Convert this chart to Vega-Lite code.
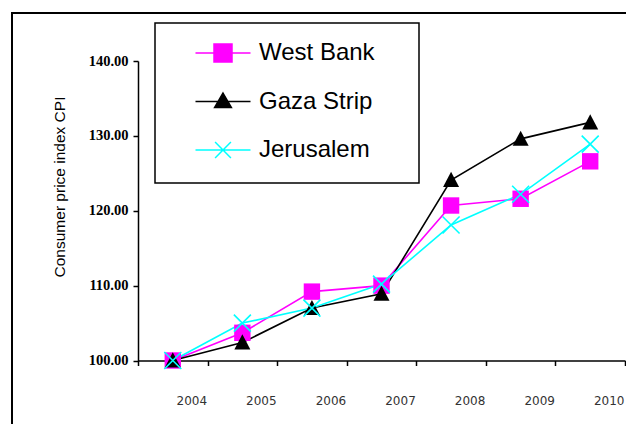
{
  "$schema": "https://vega.github.io/schema/vega-lite/v6.json",
  "width": 620,
  "height": 420,
  "autosize": {"type": "none"},
  "padding": {"left": 12, "top": 13, "right": 0, "bottom": 0},
  "background": "white",
  "config": {
    "view": {"stroke": "black", "strokeWidth": 2},
    "axis": {"grid": false, "domainColor": "black", "domainWidth": 1.5, "tickColor": "black", "tickWidth": 1.5, "tickSize": 5},
    "legend": {"strokeWidth": 1.5}
  },
  "data": {
    "values": [
      {"year": "2004", "series": "West Bank", "value": 100},
      {"year": "2005", "series": "West Bank", "value": 103.7},
      {"year": "2006", "series": "West Bank", "value": 109.2},
      {"year": "2007", "series": "West Bank", "value": 110.0},
      {"year": "2008", "series": "West Bank", "value": 120.7},
      {"year": "2009", "series": "West Bank", "value": 121.6},
      {"year": "2010", "series": "West Bank", "value": 126.6},
      {"year": "2004", "series": "Gaza Strip", "value": 100},
      {"year": "2005", "series": "Gaza Strip", "value": 102.4},
      {"year": "2006", "series": "Gaza Strip", "value": 107.0},
      {"year": "2007", "series": "Gaza Strip", "value": 108.9},
      {"year": "2008", "series": "Gaza Strip", "value": 124.1},
      {"year": "2009", "series": "Gaza Strip", "value": 129.6},
      {"year": "2010", "series": "Gaza Strip", "value": 131.8},
      {"year": "2004", "series": "Jerusalem", "value": 100},
      {"year": "2005", "series": "Jerusalem", "value": 105.0},
      {"year": "2006", "series": "Jerusalem", "value": 107.0},
      {"year": "2007", "series": "Jerusalem", "value": 110.2},
      {"year": "2008", "series": "Jerusalem", "value": 118.1},
      {"year": "2009", "series": "Jerusalem", "value": 122.2},
      {"year": "2010", "series": "Jerusalem", "value": 128.9}
    ]
  },
  "encoding": {
    "x": {
      "field": "year", "type": "ordinal", "sort": null,
      "scale": {"type": "band", "range": [126, 613], "paddingInner": 0, "paddingOuter": 0},
      "axis": {
        "title": null, "orient": "bottom", "offset": -72.5, "tickBand": "extent",
        "labelAngle": 0, "labelFont": "DejaVu Sans", "labelFontSize": 12, "labelColor": "#333",
        "labelPadding": 30, "labelOffset": 18.5, "labelBaseline": "top"
      }
    },
    "y": {
      "field": "value", "type": "quantitative",
      "scale": {"domain": [100, 140], "range": [347.5, 48], "nice": false, "zero": false},
      "axis": {
        "title": "Consumer price index CPI", "orient": "left", "offset": -126,
        "values": [100, 110, 120, 130, 140], "format": ".2f",
        "labelFont": "Liberation Serif", "labelFontWeight": "bold", "labelFontSize": 14.5, "labelColor": "black",
        "labelPadding": 5,
        "titleFont": "Liberation Sans", "titleFontWeight": "normal", "titleFontSize": 15.5, "titleColor": "black",
        "titleX": -71, "titleY": 173.5, "titleAngle": -90, "titleAlign": "center", "titleBaseline": "bottom", "titleAnchor": null
      }
    },
    "color": {
      "field": "series", "type": "nominal",
      "scale": {"domain": ["West Bank", "Gaza Strip", "Jerusalem"], "range": ["#FF00FF", "#000000", "#00FFFF"]},
      "legend": {
        "title": null, "orient": "none", "legendX": 143, "legendY": 10,
        "padding": 5, "symbolOffset": 38, "symbolSize": 2304, "labelOffset": 11, "rowPadding": 11.5,
        "labelFont": "Liberation Sans", "labelFontSize": 24, "labelColor": "black", "labelLimit": 400,
        "strokeColor": "black", "fillColor": "white",
        "symbolOpacity": 1
      }
    }
  },
  "layer": [
    {
      "mark": {"type": "line", "strokeWidth": 1.6}
    },
    {
      "mark": {"type": "point", "filled": true, "opacity": 0, "size": 1},
      "encoding": {
        "shape": {
          "field": "series", "type": "nominal",
          "scale": {"domain": ["West Bank", "Gaza Strip", "Jerusalem"], "range": ["M-1.146,0H1.146M-0.375,-0.375H0.375V0.375H-0.375ZM7.8,0L7.8,0", "M-1.146,0H1.146M0,-0.35L0.35,0.25H-0.35ZM7.8,0L7.8,0", "M-1.146,0H1.146M-0.33,-0.33L0.33,0.33M-0.33,0.33L0.33,-0.33M7.8,0L7.8,0M0,1.03L0,1.03"]},
          "legend": null
        }
      }
    },
    {
      "transform": [{"filter": "datum.series === 'West Bank'"}],
      "mark": {"type": "point", "filled": true, "opacity": 1, "size": 400, "shape": "M-0.82,-0.82H0.82V0.82H-0.82Z"}
    },
    {
      "transform": [{"filter": "datum.series === 'Gaza Strip'"}],
      "mark": {"type": "point", "filled": true, "opacity": 1, "size": 400, "shape": "M0,-0.82L0.8,0.7H-0.8Z"}
    },
    {
      "transform": [{"filter": "datum.series === 'Jerusalem'"}],
      "mark": {"type": "point", "filled": false, "opacity": 1, "size": 400, "strokeWidth": 1.6, "shape": "M-0.85,-0.85L0.85,0.85M-0.85,0.85L0.85,-0.85"}
    }
  ]
}
